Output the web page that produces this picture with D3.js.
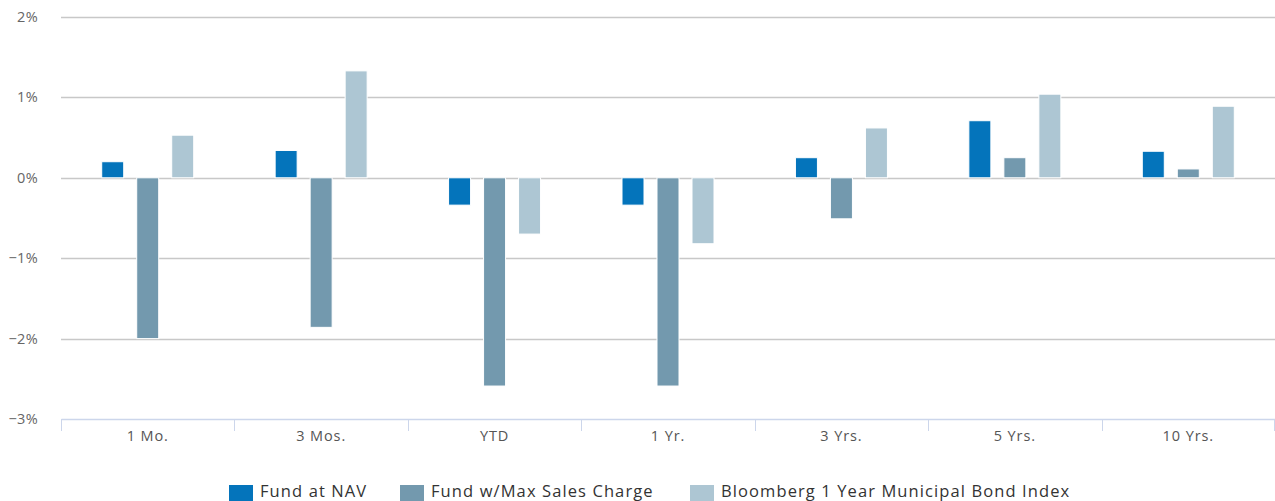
<!DOCTYPE html>
<html>
<head>
<meta charset="utf-8">
<script src="https://cdn.jsdelivr.net/npm/d3@7"></script>
<style>
  body { margin: 0; background: #fff; }
  svg { display: block; font-family: "Open Sans", "DejaVu Sans", sans-serif; }
</style>
</head>
<body>
<div id="chart"></div>
<script>
// chart data
var categories = ["1 Mo.", "3 Mos.", "YTD", "1 Yr.", "3 Yrs.", "5 Yrs.", "10 Yrs."];
var seriesNames = ["Fund at NAV", "Fund w/Max Sales Charge", "Bloomberg 1 Year Municipal Bond Index"];
var fundNav = [0.20, 0.34, -0.34, -0.34, 0.25, 0.71, 0.33];
var fundMax = [-2.00, -1.86, -2.59, -2.59, -0.51, 0.25, 0.11];
var indexVals = [0.53, 1.33, -0.70, -0.82, 0.62, 1.04, 0.89];
var yTicks = [-3, -2, -1, 0, 1, 2];
var colors = ["#0474bb", "#7399ae", "#adc6d3"];

var width = 1275, height = 501;
var margin = { top: 17, right: 0, bottom: 82, left: 61 };

var svg = d3.select("#chart")
    .append("svg")
    .attr("width", width)
    .attr("height", height);

var x0 = d3.scaleBand()
    .domain(categories)
    .range([margin.left, width - margin.right]);

var x1 = d3.scaleBand()
    .domain(seriesNames)
    .range([0, 105]);

var y = d3.scaleLinear()
    .domain([-3, 2])
    .range([height - margin.bottom, margin.top]);

// grid lines + y labels
svg.append("g")
    .selectAll("line")
    .data(yTicks.filter(function (d) { return d !== -3 }))
    .join("line")
    .attr("x1", margin.left)
    .attr("x2", width)
    .attr("y1", function (d) { return Math.round(y(d)) + 0.5 })
    .attr("y2", function (d) { return Math.round(y(d)) + 0.5 })
    .attr("stroke", "#c8c8c8")
    .attr("stroke-width", 1.5);

svg.append("g")
    .selectAll("text")
    .data(yTicks)
    .join("text")
    .attr("x", 38)
    .attr("y", function (d) { return y(d) + 5 })
    .attr("text-anchor", "end")
    .attr("fill", "#666")
    .style("font-size", "14.5px")
    .style("letter-spacing", "0.3px")
    .text(function (d) { return (d < 0 ? "\u2212" + Math.abs(d) : d) + "%" });

// x axis
var xAxis = d3.axisBottom(x0).tickSize(0).tickPadding(12);
var gx = svg.append("g")
    .attr("transform", "translate(0," + y(-3) + ")")
    .call(xAxis);
gx.select(".domain").attr("stroke", "#ccd6eb").attr("stroke-width", 1.5);
gx.selectAll("text")
    .attr("fill", "#555")
    .style("font-size", "14.5px")
    .style("letter-spacing", "0.9px")
    .style("font-family", "\"Open Sans\", sans-serif");

// category tick marks
var tickPos = categories.map(function (c) { return x0(c) }).concat([width - 1]);
gx.selectAll(".cat-tick")
    .data(tickPos)
    .join("line")
    .attr("class", "cat-tick")
    .attr("x1", function (d) { return Math.round(d) + 0.5 })
    .attr("x2", function (d) { return Math.round(d) + 0.5 })
    .attr("y1", 0)
    .attr("y2", 12)
    .attr("stroke", "#ccd6eb")
    .attr("stroke-width", 1);

// bars
var allSeries = [fundNav, fundMax, indexVals];
var barW = 22;
var rows = [];
categories.forEach(function (c, i) {
    seriesNames.forEach(function (s, j) {
        rows.push({ cat: c, series: s, idx: j, value: allSeries[j][i] });
    });
});

svg.append("g")
    .selectAll("rect")
    .data(rows)
    .join("rect")
    .attr("x", function (d) {
        return x0(d.cat) + x0.bandwidth() / 2 - 52.5 + x1(d.series) + (x1.bandwidth() - barW) / 2;
    })
    .attr("y", function (d) { return Math.min(y(d.value), y(0)) })
    .attr("width", barW)
    .attr("height", function (d) { return Math.abs(y(d.value) - y(0)) })
    .attr("fill", function (d) { return colors[d.idx] })
    .attr("stroke", "#fff")
    .attr("stroke-width", 1);

// legend
var legendX = [229, 400, 690];
var legend = svg.append("g")
    .selectAll("g")
    .data(seriesNames)
    .join("g")
    .attr("transform", function (d, i) { return "translate(" + legendX[i] + ",485)" });

legend.append("rect")
    .attr("width", 24)
    .attr("height", 16)
    .attr("fill", function (d, i) { return colors[i] });

legend.append("text")
    .attr("x", 31)
    .attr("y", 11.5)
    .attr("fill", "#333")
    .style("font-size", "16.5px")
    .style("letter-spacing", "1.1px")
    .text(function (d) { return d });
</script>
</body>
</html>
